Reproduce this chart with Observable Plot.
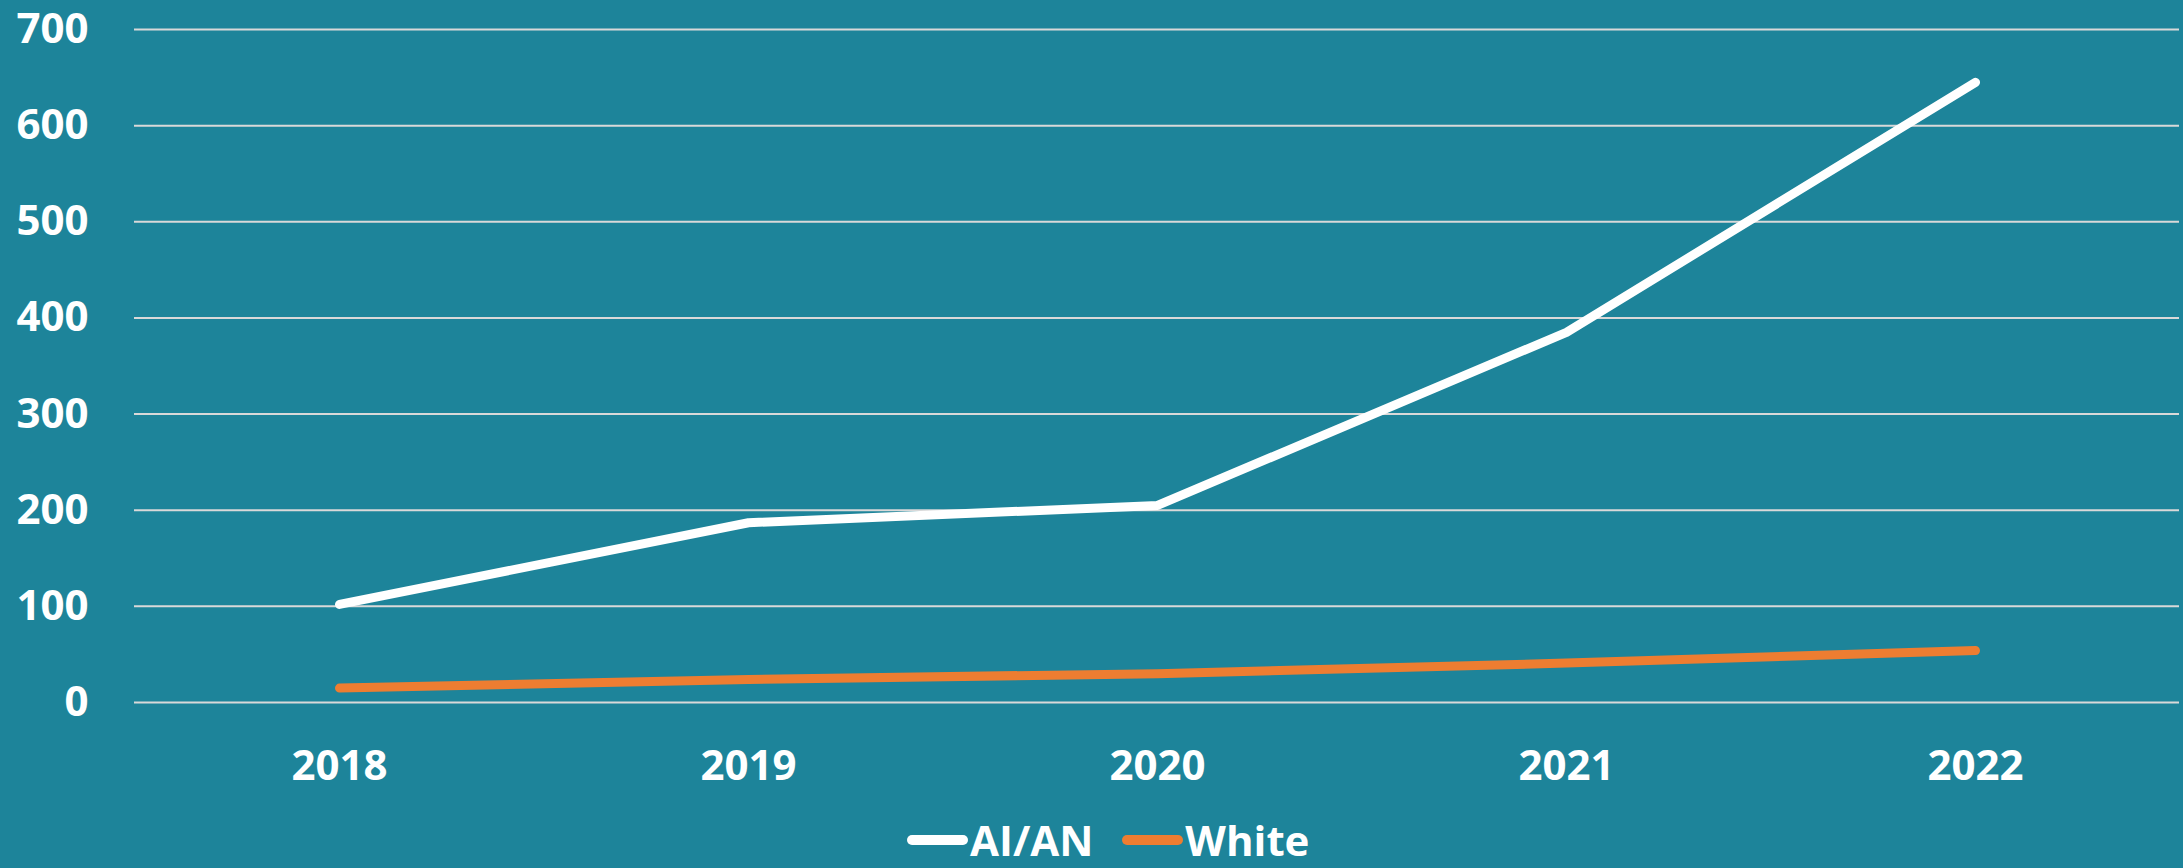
<!DOCTYPE html>
<html>
<head>
<meta charset="utf-8">
<script src="https://cdn.jsdelivr.net/npm/d3@7"></script>
<script src="https://cdn.jsdelivr.net/npm/@observablehq/plot@0.6"></script>
<style>
  html, body { margin: 0; padding: 0; background: #1d849a; }
  body { width: 2183px; height: 868px; position: relative; overflow: hidden; font-family: "Open Sans", sans-serif; }
  #chart svg { display: block; }
  #legend { position: absolute; left: 907px; top: 816px; height: 48px; display: flex; align-items: center; color: #fff; font-weight: 700; font-size: 42px; line-height: 48px; }
  .sw { width: 61px; height: 10px; border-radius: 5px; margin-right: 2px; }
  .item { display: flex; align-items: center; }
</style>
</head>
<body>
<div id="chart"></div>
<div id="legend"></div>
<script>
const years = ["2018", "2019", "2020", "2021", "2022"];
const aian = [102, 187, 205, 385, 645];
const white = [15, 24, 30, 41, 54];
const seriesNames = ["AI/AN", "White"];
const seriesColors = ["#ffffff", "#ED7D31"];
const yTicks = [0, 100, 200, 300, 400, 500, 600, 700];

const rows = [
  ...years.map((y, i) => ({year: y, value: aian[i], series: seriesNames[0]})),
  ...years.map((y, i) => ({year: y, value: white[i], series: seriesNames[1]}))
];

const chart = Plot.plot({
  width: 2183,
  height: 805,
  marginTop: 29,
  marginBottom: 103,
  marginLeft: 134,
  marginRight: 4,
  style: {background: "#1d849a", fontFamily: "'Open Sans', sans-serif", fontWeight: 700, color: "#fff", overflow: "visible"},
  x: {type: "point", domain: years, padding: 0.5},
  y: {domain: [0, 700]},
  color: {domain: seriesNames, range: seriesColors},
  marks: [
    Plot.ruleY(yTicks, {stroke: "#d9d9d9", strokeWidth: 2}),
    Plot.axisY({ticks: yTicks, tickSize: 0, tickPadding: 46, fontSize: 42, fontWeight: 700, fill: "#fff", label: null}),
    Plot.axisX({tickSize: 0, tickPadding: 48, fontSize: 42, fontWeight: 700, fill: "#fff", label: null}),
    Plot.line(rows, {x: "year", y: "value", z: "series", stroke: "series", strokeWidth: 9, strokeLinecap: "round", strokeLinejoin: "round"})
  ]
});
document.getElementById("chart").appendChild(chart);

const legend = document.getElementById("legend");
seriesNames.forEach((name, i) => {
  const item = document.createElement("div");
  item.className = "item";
  item.style.marginRight = i === 0 ? "29px" : "0";
  const sw = document.createElement("div");
  sw.className = "sw";
  sw.style.background = seriesColors[i];
  const t = document.createElement("span");
  t.textContent = name;
  item.appendChild(sw);
  item.appendChild(t);
  legend.appendChild(item);
});
</script>
</body>
</html>
